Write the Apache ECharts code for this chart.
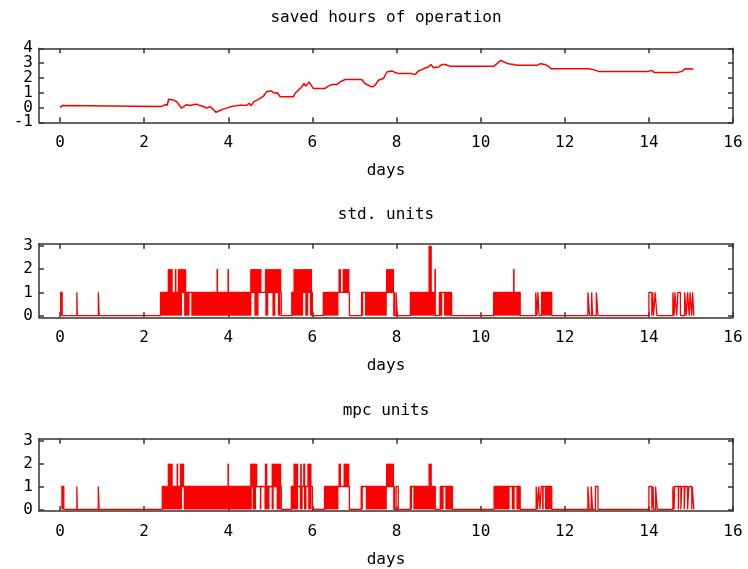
<!DOCTYPE html>
<html>
<head>
<meta charset="utf-8">
<script src="https://cdn.jsdelivr.net/npm/echarts@6/dist/echarts.min.js"></script>
<style>
  html, body { margin: 0; padding: 0; background: #fff; }
  #chart { width: 748px; height: 569px; }
</style>
</head>
<body>
<div id="chart"></div>
<script>
// x ticks shared by all three panels
const dayTicks = [0, 2, 4, 6, 8, 10, 12, 14, 16];
const hourTicks = [-1, 0, 1, 2, 3, 4];
const hourLabelsOdd = [-1, 1, 3];
const hourLabelsEven = [0, 2, 4];
const unitTicks = [0, 1, 2, 3];

// saved hours of operation, [day, hours]
const savedHours = [
  [0, 0], [0.05, 0.13], [0.08, 0.07], [2.39, 0.07], [2.42, 0.15], [2.45, 0.11], [2.5, 0.2],
  [2.55, 0.15], [2.58, 0.55], [2.7, 0.5], [2.77, 0.4], [2.84, 0.15], [2.89, -0.05], [2.93, 0.07],
  [3.0, 0.18], [3.1, 0.13], [3.18, 0.2], [3.25, 0.22], [3.33, 0.13], [3.41, 0.07], [3.49, -0.04],
  [3.57, 0.07], [3.65, -0.15], [3.71, -0.33], [3.8, -0.2], [3.88, -0.11], [3.96, -0.04],
  [4.08, 0.07], [4.16, 0.11], [4.28, 0.15], [4.44, 0.15], [4.5, 0.29], [4.54, 0.11], [4.61, 0.4],
  [4.72, 0.55], [4.84, 0.78], [4.91, 1.07], [5.01, 1.13], [5.11, 0.96], [5.17, 1.0], [5.23, 0.73],
  [5.55, 0.73], [5.59, 0.96], [5.67, 1.18], [5.75, 1.4], [5.8, 1.62], [5.85, 1.44], [5.92, 1.73],
  [5.96, 1.67], [6.02, 1.29], [6.3, 1.29], [6.38, 1.44], [6.46, 1.55], [6.58, 1.55], [6.66, 1.73],
  [6.78, 1.89], [7.17, 1.89], [7.25, 1.62], [7.37, 1.44], [7.45, 1.4], [7.51, 1.58], [7.57, 1.84],
  [7.61, 1.85], [7.69, 1.96], [7.77, 2.4], [7.89, 2.47], [7.97, 2.36], [8.05, 2.29], [8.36, 2.29],
  [8.44, 2.22], [8.52, 2.47], [8.6, 2.56], [8.68, 2.67], [8.76, 2.73], [8.82, 2.91], [8.88, 2.69],
  [9.0, 2.73], [9.08, 2.91], [9.16, 2.91], [9.28, 2.78], [10.31, 2.78], [10.39, 2.96], [10.48, 3.18],
  [10.56, 3.07], [10.66, 2.96], [10.78, 2.91], [10.86, 2.85], [11.34, 2.85], [11.42, 2.96],
  [11.53, 2.91], [11.61, 2.78], [11.67, 2.62], [12.57, 2.62], [12.6, 2.67], [12.68, 2.56],
  [12.8, 2.44], [13.99, 2.44], [14.07, 2.51], [14.13, 2.36], [14.57, 2.36], [14.6, 2.47],
  [14.67, 2.36], [14.79, 2.44], [14.86, 2.62], [15.06, 2.6]
];

// std. units: resting level steps [day, units] and dense switching blocks [from, to, low, high]
const stdSteps = [
  [0, 1], [0.05, 0], [0.40, 1], [0.41, 0], [0.91, 1], [0.93, 0],
  [2.39, 1], [5.26, 0], [5.51, 1], [6.00, 0], [6.26, 1], [6.88, 0],
  [7.17, 1], [7.94, 0], [7.99, 1], [8.02, 0], [8.33, 1], [8.92, 0],
  [9.02, 1], [9.31, 0], [10.31, 1], [10.94, 0],
  [11.31, 1], [11.34, 0], [11.36, 1], [11.39, 0], [11.45, 1], [11.69, 0],
  [12.55, 1], [12.59, 0], [12.64, 1], [12.66, 0], [12.75, 1], [12.79, 0],
  [14.0, 1], [14.07, 0], [14.09, 1], [14.11, 0], [14.15, 1], [14.19, 0],
  [14.57, 1], [14.60, 0], [14.62, 1], [14.66, 0], [14.69, 1], [14.75, 0],
  [14.85, 1], [14.89, 0], [14.92, 1], [14.96, 0], [14.98, 1], [15.02, 0],
  [15.04, 1], [15.07, 0], [15.08, 0]
];
const stdBlocks = [
  [0, 0.05, 0, 1],
  [2.39, 2.90, 0, 1], [2.95, 3.08, 0, 1], [3.12, 4.55, 0, 1], [4.62, 4.72, 0, 1],
  [4.88, 4.95, 0, 1], [5.05, 5.12, 0, 1], [5.18, 5.24, 0, 1],
  [2.56, 2.68, 1, 2], [2.73, 2.76, 1, 2], [2.80, 3.00, 1, 2], [3.72, 3.73, 1, 2], [3.98, 3.99, 1, 2],
  [4.52, 4.79, 1, 2], [4.87, 5.26, 1, 2],
  [5.51, 5.78, 0, 1], [5.83, 5.90, 0, 1], [5.94, 5.99, 0, 1], [5.55, 5.99, 1, 2],
  [6.26, 6.62, 0, 1], [6.62, 6.68, 1, 2], [6.72, 6.88, 1, 2],
  [7.17, 7.21, 0, 1], [7.25, 7.77, 0, 1], [7.75, 7.94, 1, 2], [7.93, 7.94, 0, 1],
  [8.33, 8.92, 0, 1], [8.76, 8.84, 1, 3], [8.90, 8.91, 1, 2],
  [9.02, 9.09, 0, 1], [9.13, 9.31, 0, 1],
  [10.31, 10.94, 0, 1], [10.77, 10.78, 1, 2],
  [11.45, 11.69, 0, 1]
];

// mpc units
const mpcSteps = [
  [0.03, 1], [0.09, 0], [0.40, 1], [0.41, 0], [0.91, 1], [0.93, 0],
  [2.43, 1], [5.26, 0], [5.50, 1], [6.00, 0], [6.29, 1], [6.88, 0],
  [7.16, 1], [7.94, 0], [7.99, 1], [8.04, 0], [8.33, 1], [8.92, 0],
  [9.04, 1], [9.33, 0], [10.32, 1], [10.94, 0],
  [11.32, 1], [11.35, 0], [11.38, 1], [11.41, 0], [11.44, 1], [11.69, 0],
  [12.55, 1], [12.58, 0], [12.63, 1], [12.66, 0], [12.73, 1], [12.79, 0],
  [14.0, 1], [14.07, 0], [14.10, 1], [14.11, 0], [14.16, 1], [14.20, 0],
  [14.57, 1], [14.60, 0], [14.61, 1], [14.70, 0], [14.71, 1], [14.76, 0],
  [14.78, 1], [14.84, 0], [14.86, 1], [14.92, 0], [14.95, 1], [15.02, 0],
  [15.03, 1], [15.07, 0], [15.08, 0]
];
const mpcBlocks = [
  [0.03, 0.09, 0, 1],
  [2.43, 2.90, 0, 1], [2.94, 4.56, 0, 1], [4.58, 4.66, 0, 1], [4.75, 4.78, 0, 1],
  [4.86, 4.98, 0, 1], [5.03, 5.08, 0, 1], [5.15, 5.25, 0, 1],
  [2.56, 2.68, 1, 2], [2.77, 2.81, 1, 2], [2.85, 2.95, 1, 2], [3.98, 3.99, 1, 2],
  [4.52, 4.69, 1, 2], [4.87, 4.93, 1, 2], [5.03, 5.26, 1, 2],
  [5.51, 5.66, 0, 1], [5.70, 5.77, 0, 1], [5.80, 5.86, 0, 1], [5.90, 5.98, 0, 1],
  [5.55, 5.66, 1, 2], [5.71, 5.75, 1, 2], [5.78, 5.83, 1, 2], [5.88, 5.98, 1, 2],
  [6.29, 6.62, 0, 1], [6.62, 6.68, 1, 2], [6.74, 6.88, 1, 2],
  [7.16, 7.20, 0, 1], [7.27, 7.77, 0, 1], [7.75, 7.94, 1, 2], [7.93, 7.94, 0, 1],
  [8.33, 8.36, 0, 1], [8.40, 8.92, 0, 1], [8.76, 8.84, 1, 2],
  [9.04, 9.12, 0, 1], [9.16, 9.33, 0, 1],
  [10.32, 10.69, 0, 1], [10.74, 10.81, 0, 1], [10.85, 10.94, 0, 1],
  [11.46, 11.50, 0, 1], [11.53, 11.69, 0, 1]
];

const FONT = 'DejaVu Sans Mono';
const RED = '#ff0000';
const BORDER = '#333';

const panels = [
  { title: 'saved hours of operation', titleTop: 10, top: 48.3, height: 74, ymin: -1, ymax: 4, yticks: hourTicks, ylabels: hourLabelsOdd },
  { title: 'std. units', titleTop: 207, top: 243.7, height: 73.6, ymin: -0.07, ymax: 3.09, yticks: unitTicks, ylabels: unitTicks },
  { title: 'mpc units', titleTop: 402.5, height: 73.6, top: 438.7, ymin: -0.07, ymax: 3.09, yticks: unitTicks, ylabels: unitTicks }
];

const chart = echarts.init(document.getElementById('chart'), null, { renderer: 'canvas' });

const labelStyle = { fontFamily: FONT, fontSize: 16, color: '#000', showMinLabel: true, showMaxLabel: true, hideOverlap: false };

const grid = [], xAxis = [], yAxis = [], title = [];
panels.forEach((p, i) => {
  grid.push({ left: 39, right: 15, top: p.top, height: p.height });
  title.push({
    text: p.title, left: 386, top: p.titleTop, textAlign: 'center', padding: 0,
    textStyle: { fontFamily: FONT, fontSize: 16, fontWeight: 'normal', color: '#000' }
  });
  const xBase = {
    type: 'value', gridIndex: i, min: -0.5, max: 16,
    splitLine: { show: false },
    axisLine: { show: true, onZero: false, lineStyle: { color: BORDER, width: 1.5 } },
    axisTick: { show: true, inside: true, length: 5, customValues: dayTicks, lineStyle: { color: BORDER, width: 1.5 } }
  };
  xAxis.push(Object.assign({}, xBase, {
    position: 'bottom',
    name: 'days', nameLocation: 'middle', nameGap: 41,
    nameTextStyle: { fontFamily: FONT, fontSize: 16, color: '#000' },
    axisLabel: Object.assign({ customValues: dayTicks, margin: 13 }, labelStyle)
  }));
  xAxis.push(Object.assign({}, xBase, { position: 'top', axisLabel: { show: false } }));
  const yBase = {
    type: 'value', gridIndex: i, min: p.ymin, max: p.ymax,
    splitLine: { show: false },
    axisLine: { show: true, onZero: false, lineStyle: { color: BORDER, width: 1.5 } },
    axisTick: { show: true, inside: true, length: 5, customValues: p.yticks, lineStyle: { color: BORDER, width: 1.5 } }
  };
  yAxis.push(Object.assign({}, yBase, {
    position: 'left',
    axisLabel: Object.assign({ customValues: p.ylabels, margin: 6 }, labelStyle)
  }));
  yAxis.push(Object.assign({}, yBase, { position: 'right', axisLabel: { show: false } }));
});
// second label-only axis for the tightly packed hour labels of the top panel
yAxis.push({
  type: 'value', gridIndex: 0, min: -1, max: 4, position: 'left', offset: 0,
  splitLine: { show: false }, axisLine: { show: false }, axisTick: { show: false },
  axisLabel: Object.assign({ customValues: hourLabelsEven, margin: 6 }, labelStyle)
});

const blockRender = (params, api) => {
  const a = api.coord([api.value(0), api.value(3)]);
  const b = api.coord([api.value(1), api.value(2)]);
  const w = Math.max(b[0] - a[0], 1.6);
  return {
    type: 'rect',
    shape: { x: a[0], y: a[1], width: w, height: b[1] - a[1] },
    style: { fill: RED }
  };
};

const series = [
  {
    type: 'line', xAxisIndex: 0, yAxisIndex: 0, data: savedHours,
    showSymbol: false, lineStyle: { color: RED, width: 1.5 }, animation: false
  }
];
[[stdSteps, stdBlocks], [mpcSteps, mpcBlocks]].forEach(([steps, blocks], k) => {
  const gi = k + 1;
  series.push({
    type: 'custom', xAxisIndex: gi * 2, yAxisIndex: gi * 2, data: blocks,
    encode: { x: [0, 1], y: [2, 3] }, renderItem: blockRender, animation: false
  });
  series.push({
    type: 'line', step: 'end', xAxisIndex: gi * 2, yAxisIndex: gi * 2, data: steps,
    showSymbol: false, lineStyle: { color: RED, width: 1.3 }, animation: false
  });
});

chart.setOption({
  backgroundColor: '#fff',
  animation: false,
  title, grid, xAxis, yAxis, series
});
</script>
</body>
</html>
